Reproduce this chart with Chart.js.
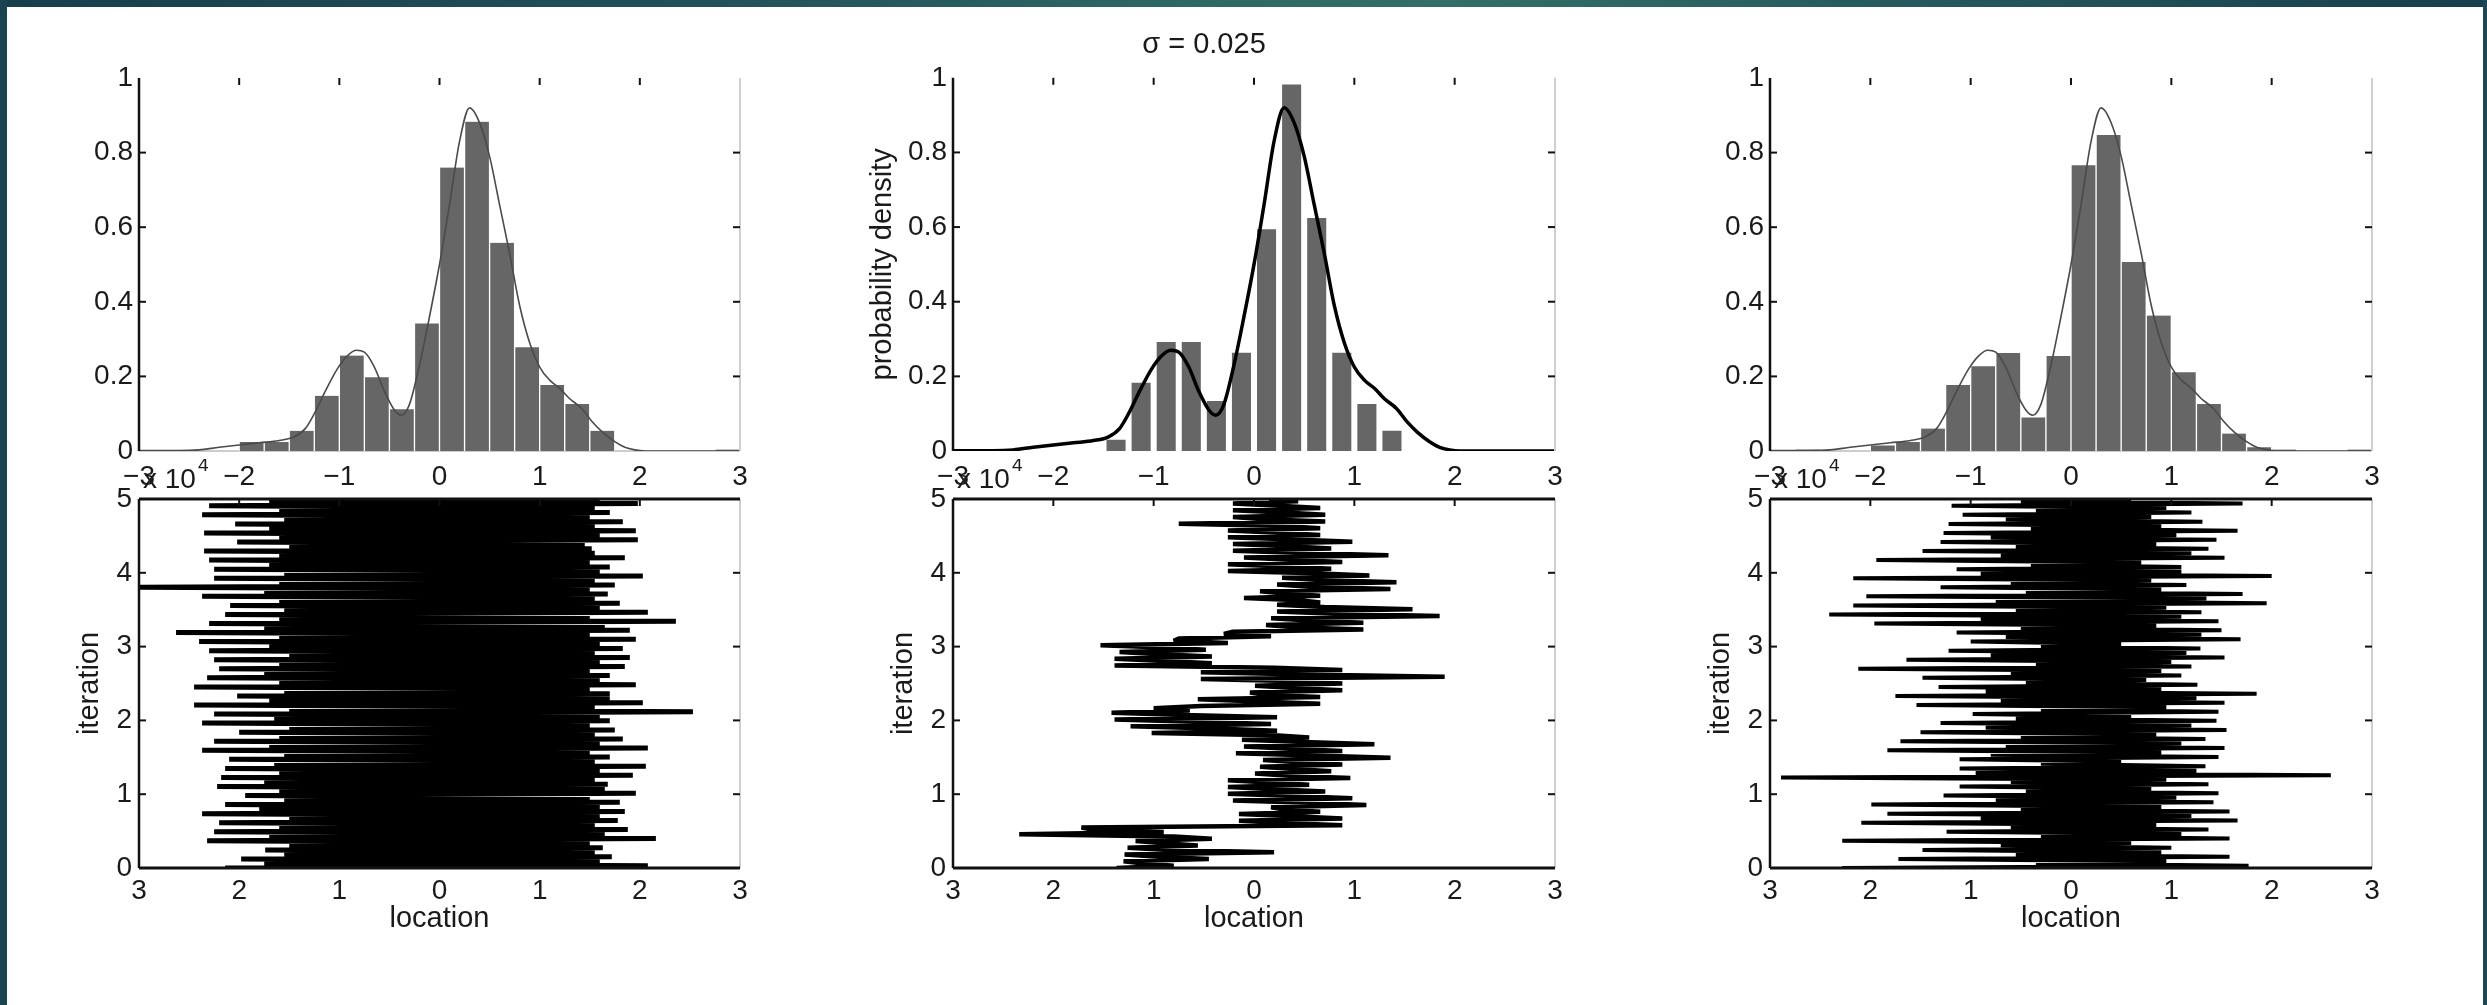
<!DOCTYPE html>
<html><head><meta charset="utf-8">
<script src="https://cdn.jsdelivr.net/npm/chart.js@4.4.1/dist/chart.umd.min.js"></script>
<style>
html,body{margin:0;padding:0;background:#fff;}
body{width:2487px;height:1005px;position:relative;overflow:hidden;}
#bandTop{position:absolute;left:0;top:0;width:2487px;height:7px;background:linear-gradient(90deg,#173e4c 0%,#22525b 30%,#2f6b65 50%,#336f67 58%,#23565c 80%,#173e4c 100%);}
#bandLeft{position:absolute;left:0;top:0;width:7px;height:1005px;background:#1a4452;}
#bandRight{position:absolute;left:2483px;top:0;width:4px;height:1005px;background:#1c4756;}
canvas{position:absolute;}
</style></head><body>
<div id="bandTop"></div><div id="bandLeft"></div><div id="bandRight"></div>
<script>
// ---------- DATA ----------
const binCenters = [-2.875,-2.625,-2.375,-2.125,-1.875,-1.625,-1.375,-1.125,-0.875,-0.625,-0.375,-0.125,
                    0.125,0.375,0.625,0.875,1.125,1.375,1.625,1.875,2.125,2.375,2.625,2.875];
const hist1 = [0,0,0,0,0.024,0.024,0.054,0.148,0.256,0.198,0.112,0.342,0.76,0.883,0.558,0.278,0.177,0.126,0.054,0,0,0,0,0.004];
const hist2 = [0,0,0,0,0,0,0.03,0.183,0.292,0.292,0.134,0.263,0.594,0.982,0.624,0.263,0.126,0.054,0,0,0,0,0,0];
const hist3 = [0,0.004,0,0,0.015,0.024,0.06,0.177,0.227,0.263,0.09,0.255,0.766,0.847,0.507,0.363,0.211,0.126,0.047,0.01,0.004,0,0,0.004];

const densityX = [-3.0,-2.6,-2.4,-2.2,-2.0,-1.8,-1.6,-1.45,-1.34,-1.25,-1.15,-1.02,-0.92,-0.83,-0.75,-0.65,-0.55,-0.45,-0.38,-0.3,-0.2,-0.1,0.0,0.1,0.2,0.3,0.4,0.5,0.6,0.7,0.8,0.9,1.0,1.1,1.2,1.3,1.42,1.52,1.63,1.75,1.85,1.95,2.05,2.5,3.0];
const densityY = [0.001,0.001,0.003,0.01,0.016,0.022,0.028,0.038,0.06,0.1,0.155,0.22,0.255,0.27,0.265,0.225,0.16,0.11,0.096,0.125,0.23,0.36,0.5,0.66,0.83,0.92,0.88,0.79,0.66,0.53,0.39,0.29,0.225,0.19,0.168,0.14,0.114,0.08,0.05,0.025,0.01,0.003,0,0,0];

const histXTicks = [-3,-2,-1,0,1,2,3];
const histYTicks = [0,0.2,0.4,0.6,0.8,1];
const traceXTicks = [-3,-2,-1,0,1,2,3];
const traceYTicks = [0,1,2,3,4,5];
const titleText = 'σ = 0.025';

// trace samples (location), in iteration order from 0 to 5 x 10^4
const trace1 = [
-2.14,2.08,-1.75,1.6, -1.98,1.72,-1.55,1.55, -1.74,1.63,-1.5,1.5, -2.32,2.16,-1.7,1.65,
-2.25,1.88,-1.6,1.55, -2.2,1.78,-1.5,1.6, -2.37,1.85,-1.8,1.6, -2.14,1.8,-1.55,1.5,
-1.94,1.96,-1.6,1.65, -2.22,1.68,-1.75,1.55, -2.18,1.93,-1.6,1.6, -2.14,2.06,-1.65,1.55,
-2.1,1.7,-1.55,1.5, -2.37,2.08,-1.7,1.6, -2.25,1.83,-1.6,1.55, -2.0,1.75,-1.5,1.5,
-2.37,1.7,-1.65,1.6, -2.25,2.53,-1.5,1.55, -2.45,2.03,-1.7,1.7, -2.02,1.7,-1.55,1.5,
-2.45,1.96,-1.6,1.6, -2.32,1.7,-1.75,1.5, -2.2,1.85,-1.6,1.6, -2.25,1.9,-1.5,1.55,
-2.3,1.83,-1.7,1.6, -2.4,1.96,-1.6,1.5, -2.63,1.9,-1.75,1.65, -2.3,2.36,-1.6,1.5,
-2.14,2.08,-1.55,1.6, -2.09,1.8,-1.6,1.55, -2.37,1.68,-1.75,1.5, -3.0,1.75,-1.6,1.55,
-2.25,2.03,-1.55,1.6, -2.25,1.7,-1.7,1.5, -2.3,1.85,-1.6,1.55, -2.35,1.52,-1.5,1.45,
-2.02,1.98,-1.6,1.6, -2.35,1.96,-1.7,1.55, -2.04,1.83,-1.55,1.5, -2.37,1.7,-1.6,1.55,
-2.3,1.98,-1.7,1.6];
const trace2 = [
-1.37,-0.8,-1.1, -1.3,-0.45,-0.95, -1.29,0.2,-0.85, -1.26,-0.56,-0.9, -1.18,-0.42,-0.8,
-2.34,-0.9,-1.6, -1.72,0.88,0.3, -0.15,0.88,0.4, -0.15,0.66,0.3, 0.17,1.12,0.55,
-0.21,0.98,0.4, -0.26,0.71,0.2, -0.26,0.55,0.15, -0.26,0.96,0.35, 0.01,0.77,0.4,
0.06,0.88,0.45, 0.09,1.36,0.6, -0.18,0.88,0.35, -0.1,1.2,0.5, -0.12,0.55,0.2,
-1.02,0.23,-0.4, -1.23,0.17,-0.6, -1.39,0.23,-0.7, -1.42,-0.64,-1.0, -0.53,0.66,0.05,
-0.56,0.66,0.1, -0.04,0.88,0.4, 0.01,0.88,0.45, -0.53,1.9,0.5, -0.53,0.88,0.2,
-1.39,-0.42,-0.9, -1.39,-0.42,-0.95, -1.34,-0.48,-0.9, -1.53,-0.26,-0.8, -0.75,0.17,-0.3,
-0.21,1.09,0.4, 0.12,1.09,0.55, 0.17,1.85,0.8, 0.23,1.58,0.7, 0.23,0.66,0.45,
-0.1,0.66,0.3, 0.06,1.36,0.55, 0.23,1.42,0.65, 0.28,1.15,0.6, -0.26,0.77,0.3,
-0.26,0.88,0.35, -0.1,1.34,0.5, -0.21,0.77,0.35, -0.21,0.98,0.4, -0.26,0.66,0.25,
-0.26,0.66,0.3, -0.75,0.71,0.1, -0.21,0.71,0.3, -0.21,0.66,0.25, -0.21,0.44,0.15];
const trace3 = [
-2.28,1.77,-0.35,0.95, -1.72,1.58,-0.55,0.9, -1.48,1.0,-0.7,0.6, -2.28,1.58,-0.3,1.1,
-1.24,1.37,-0.6,0.85, -2.09,1.66,-0.9,1.2, -1.83,1.58,-0.5,0.9, -1.99,1.42,-0.75,1.05,
-1.27,1.47,-0.45,0.8, -1.11,1.37,-0.6,0.95, -2.89,2.59,-0.95,1.25, -1.11,1.34,-0.3,0.5,
-1.11,1.47,-0.8,0.9, -1.83,1.53,-0.65,1.1, -1.7,1.34,-0.5,0.85, -1.5,1.55,-0.85,1.2,
-1.3,1.45,-0.55,0.6, -0.98,1.47,-0.3,0.95, -1.54,1.53,-0.7,1.25, -1.75,1.85,-0.85,0.9,
-1.32,1.26,-0.45,0.75, -1.48,1.1,-0.6,0.9, -2.12,1.2,-0.35,1.0, -1.64,1.53,-0.8,1.15,
-1.22,1.29,-0.3,0.5, -1.0,1.69,-0.65,1.3, -1.14,1.5,-0.5,0.85, -1.96,1.47,-0.9,1.1,
-2.41,1.3,-0.55,0.95, -2.17,1.95,-0.75,1.35, -2.04,1.71,-0.45,0.9, -1.3,1.15,-0.6,0.8,
-2.17,2.0,-0.9,1.1, -1.14,1.1,-0.4,0.7, -1.94,1.53,-0.7,1.2, -1.48,1.37,-0.55,0.85,
-1.3,1.45,-0.8,1.05, -1.27,1.66,-0.4,0.9, -1.22,1.31,-0.65,0.8, -1.08,1.2,-0.35,0.95,
-1.19,1.71,-0.5,0.6];
const iterationMax = 5; // x 10^4

// ---------- LAYOUT ----------
const axisLeft = [139, 953, 1770];
const axisRight = [740, 1555, 2372];
const histTop = 78, histBottom = 451, traceTop = 499, traceBottom = 868;
const traceWidths = [5, 4.5, 4];

Chart.defaults.font.family = "'Liberation Sans', Arial, sans-serif";
Chart.defaults.font.size = 28;
Chart.defaults.color = '#1a1a1a';

const framePlugin = {
  id: 'frame',
  beforeDatasetsDraw(chart, args, o) {
    if (!o || !o.kind) return;
    const {ctx, chartArea: a} = chart;
    if (o.grayBase) {
      ctx.save(); ctx.strokeStyle = '#cdcdcd'; ctx.lineWidth = 2;
      ctx.beginPath(); ctx.moveTo(a.left, a.bottom); ctx.lineTo(a.right, a.bottom); ctx.stroke(); ctx.restore();
    }
  },
  afterDatasetsDraw(chart, args, o) {
    if (!o || !o.kind) return;
    const {ctx, chartArea: a, scales: {x, y}} = chart;
    const seg = (x1, y1, x2, y2, c, w) => { ctx.strokeStyle = c; ctx.lineWidth = w; ctx.beginPath(); ctx.moveTo(x1, y1); ctx.lineTo(x2, y2); ctx.stroke(); };
    ctx.save(); ctx.lineCap = 'butt';
    const T = 7;
    seg(a.right, a.top, a.right, a.bottom, '#cfcfcf', 2);
    o.xTicks.forEach(v => { const px = x.getPixelForValue(v); seg(px, a.top, px, a.top + T, '#111', 2); });
    o.yTicks.forEach(v => { const py = y.getPixelForValue(v); seg(a.left, py, a.left + T, py, '#111', 2); seg(a.right - T, py, a.right, py, '#111', 2); });
    if (o.kind === 'trace') {
      seg(a.left, a.top, a.right, a.top, '#111', 3);
      seg(a.left, a.bottom, a.right, a.bottom, '#111', 3);
      ctx.fillStyle = '#1a1a1a'; ctx.textAlign = 'left'; ctx.textBaseline = 'alphabetic';
      ctx.font = "28px 'Liberation Sans', Arial, sans-serif";
      ctx.fillText('x 10', a.left + 4, a.top - 11);
      const w = ctx.measureText('x 10').width;
      ctx.font = "19px 'Liberation Sans', Arial, sans-serif";
      ctx.fillText('4', a.left + 4 + w + 2, a.top - 28);
    }
    seg(a.left, a.top, a.left, a.bottom, '#111', 2.5);
    ctx.restore();
  }
};
Chart.register(framePlugin);

function makeCanvas(left, top, w, h) {
  const c = document.createElement('canvas');
  c.width = w; c.height = h;
  c.style.left = left + 'px'; c.style.top = top + 'px';
  c.style.width = w + 'px'; c.style.height = h + 'px';
  document.body.appendChild(c);
  return c;
}
const fmtMinus = v => v < 0 ? '\u2212' + Math.abs(v) : String(v);
const fmtDensity = v => Math.abs(v) < 1e-9 ? '0' : (Math.abs(v - 1) < 1e-9 ? '1' : v.toFixed(1));

function histChart(p, vals) {
  const W = (axisRight[p] - axisLeft[p]) + 100 + 20;
  const canvasTop = 20;
  const padTop = histTop - canvasTop;
  const H = padTop + (histBottom - histTop) + 50;
  const cv = makeCanvas(axisLeft[p] - 100, canvasTop, W, H);
  const middle = p === 1;
  new Chart(cv, {
    type: 'bar',
    data: { datasets: [
      { type: 'line', data: densityX.map((v, i) => ({x: v, y: densityY[i]})),
        borderColor: middle ? '#000' : '#4a4a4a', borderWidth: middle ? 3.5 : 1.6,
        pointRadius: 0, tension: 0.4, cubicInterpolationMode: 'monotone', fill: false, order: 0 },
      { type: 'bar', data: binCenters.map((v, i) => ({x: v, y: vals[i]})),
        backgroundColor: '#666666', borderColor: '#ffffff',
        borderWidth: middle ? 0 : {left: 1, right: 1, top: 0, bottom: 0},
        barPercentage: middle ? 0.76 : 1, categoryPercentage: 1, order: 1 }
    ]},
    options: {
      responsive: false, animation: false, devicePixelRatio: 1,
      layout: { padding: {left: 0, right: 20, top: middle ? 0 : padTop, bottom: 0} },
      plugins: {
        legend: {display: false}, tooltip: {enabled: false},
        title: { display: middle, text: titleText, color: '#1a1a1a', font: {size: 29, weight: 'normal'}, padding: {top: 8, bottom: 15} },
        frame: { kind: 'hist', grayBase: !middle, xTicks: [-2, -1, 0, 1, 2], yTicks: [0.2, 0.4, 0.6, 0.8] }
      },
      scales: {
        x: { type: 'linear', min: -3, max: 3, offset: false,
             grid: {display: false, drawTicks: false}, border: {display: false},
             afterBuildTicks: s => { s.ticks = histXTicks.map(v => ({value: v})); },
             ticks: {padding: 9, autoSkip: false, maxRotation: 0, callback: fmtMinus},
             afterFit: s => { s.height = 50; } },
        y: { type: 'linear', min: 0, max: 1,
             grid: {display: false, drawTicks: false}, border: {display: false},
             afterBuildTicks: s => { s.ticks = histYTicks.map(v => ({value: v})); },
             ticks: {padding: 6, callback: fmtDensity},
             title: { display: middle, text: 'probability density', font: {size: 29}, color: '#1a1a1a', padding: {top: 13, bottom: 0} },
             afterFit: s => { s.width = 100; } }
      }
    }
  });
}

function traceChart(p, vals) {
  const W = (axisRight[p] - axisLeft[p]) + 100 + 20;
  const padTop = 40;
  const H = padTop + (traceBottom - traceTop) + 70;
  const cv = makeCanvas(axisLeft[p] - 100, traceTop - padTop, W, H);
  new Chart(cv, {
    type: 'scatter',
    data: { datasets: [{
      data: vals.map((v, i) => ({x: v, y: i * iterationMax / (vals.length - 1)})),
      showLine: true, borderColor: '#000', backgroundColor: '#000', borderWidth: traceWidths[p],
      pointRadius: 0, borderJoinStyle: 'bevel', tension: 0 }]},
    options: {
      responsive: false, animation: false, devicePixelRatio: 1,
      layout: { padding: {left: 0, right: 20, top: padTop, bottom: 0} },
      plugins: {
        legend: {display: false}, tooltip: {enabled: false},
        frame: { kind: 'trace', xTicks: [-2, -1, 0, 1, 2], yTicks: [1, 2, 3, 4] }
      },
      scales: {
        x: { type: 'linear', min: -3, max: 3,
             grid: {display: false, drawTicks: false}, border: {display: false},
             afterBuildTicks: s => { s.ticks = traceXTicks.map(v => ({value: v})); },
             ticks: {padding: 6, autoSkip: false, maxRotation: 0, callback: v => String(Math.abs(v))},
             title: { display: true, text: 'location', font: {size: 29}, color: '#1a1a1a', padding: {top: 0, bottom: 2} },
             afterFit: s => { s.height = 70; } },
        y: { type: 'linear', min: 0, max: iterationMax,
             grid: {display: false, drawTicks: false}, border: {display: false},
             afterBuildTicks: s => { s.ticks = traceYTicks.map(v => ({value: v})); },
             ticks: {padding: 7},
             title: { display: true, text: 'iteration', font: {size: 29}, color: '#1a1a1a', padding: {top: 34, bottom: 0} },
             afterFit: s => { s.width = 100; } }
      }
    }
  });
}

histChart(0, hist1); histChart(1, hist2); histChart(2, hist3);
traceChart(0, trace1); traceChart(1, trace2); traceChart(2, trace3);
</script>
</body></html>
